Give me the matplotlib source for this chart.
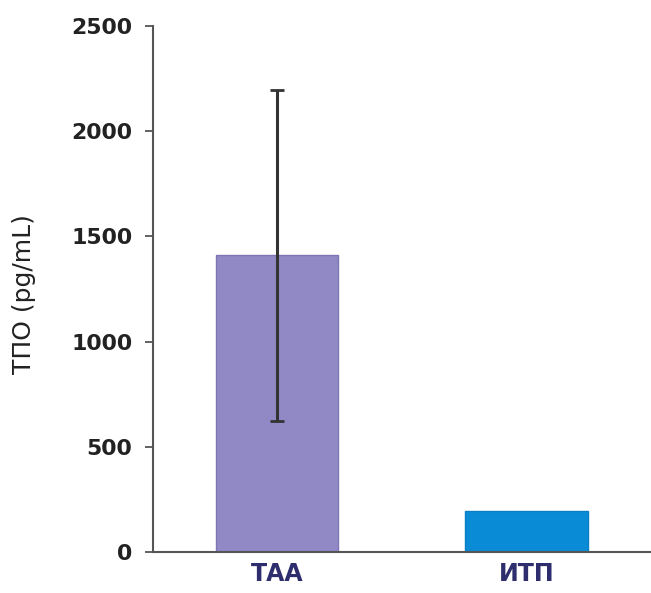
import matplotlib.pyplot as plt
import numpy as np

# данные
groups = ['ТАА', 'ИТП']
tpo_mean = [1410, 195]
tpo_err = [785, 0]
bar_colors = ['#9189c6', '#0a8bd6']

fig = plt.figure(figsize=(6.51, 5.93), dpi=100)
ax = fig.add_axes([0.235, 0.069, 0.765, 0.887])

x = np.arange(len(groups))
ax.bar(x, tpo_mean, width=0.49, color=bar_colors, edgecolor=['#7d76b4', '#0a7fc4'], linewidth=1)
ax.errorbar(x[:1], tpo_mean[:1], yerr=tpo_err[:1], fmt='none', ecolor='#333333',
            elinewidth=2.2, capsize=5, capthick=2)

ax.set_xlim(-0.5, 1.5)
ax.set_ylim(0, 2500)
ax.set_yticks([0, 500, 1000, 1500, 2000, 2500])
ax.set_xticks(x)
ax.set_xticklabels(groups, fontsize=17, fontweight='bold', color='#2e2d6e', family='DejaVu Sans')
ax.tick_params(axis='x', length=0, pad=7)
ax.tick_params(axis='y', length=6, width=1.3, color='#555555', pad=9, labelsize=15.8)
for lab in ax.get_yticklabels():
    lab.set_fontweight('bold')
    lab.set_family('DejaVu Sans')
    lab.set_color('#222222')

# подпись оси Y
ax.set_ylabel('ТПО (pg/mL)', fontsize=18, family='DejaVu Sans', color='#222222')
ax.yaxis.set_label_coords(-0.235, 0.49)

for s in ['top', 'right']:
    ax.spines[s].set_visible(False)
for s in ['left', 'bottom']:
    ax.spines[s].set_color('#555555')
    ax.spines[s].set_linewidth(1.5)

fig.savefig('out.png', dpi=100)
